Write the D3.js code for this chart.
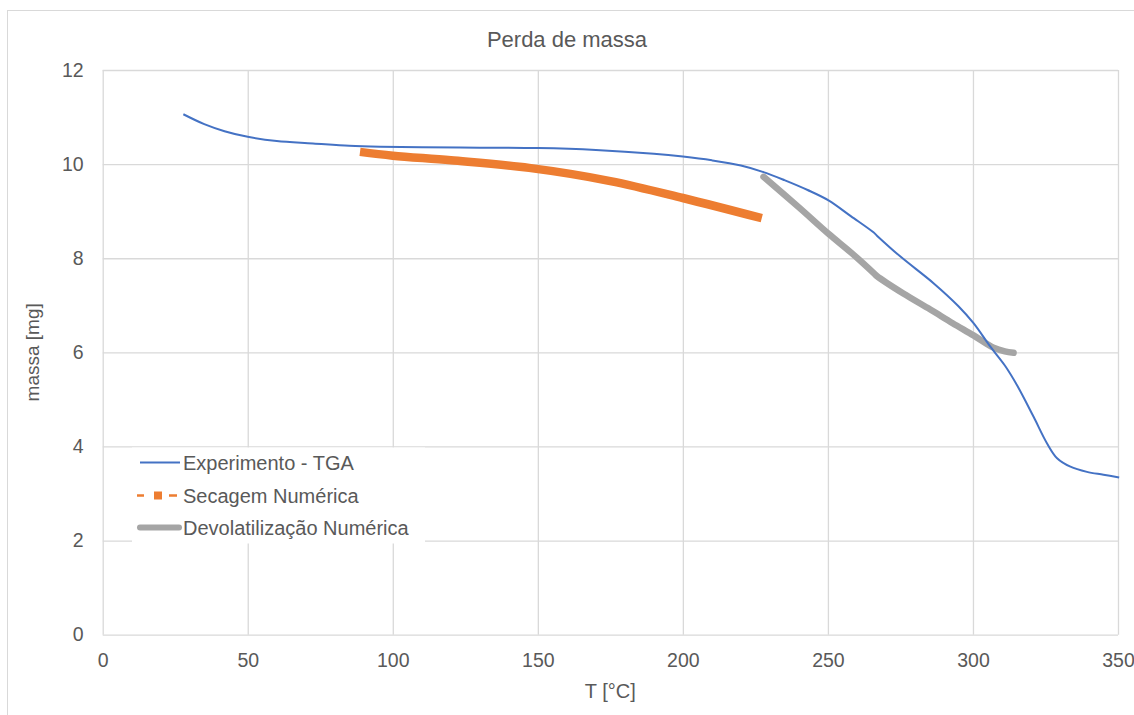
<!DOCTYPE html>
<html>
<head>
<meta charset="utf-8">
<script src="https://cdn.jsdelivr.net/npm/d3@7"></script>
<style>
  html, body { margin: 0; padding: 0; background: #fff; }
  svg { display: block; font-family: "Liberation Sans", Arial, sans-serif; }
</style>
</head>
<body>
<svg id="chart" width="1134" height="715"></svg>
<script>
// Experimental TGA mass-loss curve
const tgaT = [27.8, 35, 42, 50, 60, 72.5, 85, 95.6, 110, 130, 150, 170, 190, 200, 210, 220, 227.8, 235, 243, 250.2, 258, 265.7, 266.9, 274.9, 286.4, 295, 300.2, 306, 311, 315.2, 320.9, 325.5, 329, 333.6, 339.3, 345, 350.4];
const tgaMass = [11.06, 10.85, 10.70, 10.58, 10.49, 10.44, 10.39, 10.37, 10.36, 10.35, 10.34, 10.30, 10.22, 10.16, 10.08, 9.97, 9.83, 9.66, 9.45, 9.23, 8.89, 8.55, 8.48, 8.04, 7.47, 6.98, 6.62, 6.12, 5.72, 5.30, 4.63, 4.07, 3.75, 3.57, 3.46, 3.40, 3.34];

// Numerical drying model
const secT = [88.7, 100, 120, 147, 175, 200, 227.2];
const secMass = [10.26, 10.18, 10.08, 9.92, 9.64, 9.28, 8.85];

// Numerical devolatilisation model
const devT = [227.8, 240, 250.2, 258, 265.7, 266.9, 276, 285.3, 293, 300.2, 307.1, 311, 314];
const devMass = [9.73, 9.08, 8.52, 8.12, 7.69, 7.62, 7.25, 6.91, 6.62, 6.36, 6.10, 6.02, 5.99];

// Axis ticks and labels
const xTicks = [0, 50, 100, 150, 200, 250, 300, 350];
const yTicks = [0, 2, 4, 6, 8, 10, 12];
const chartTitle = "Perda de massa";
const xTitle = "T [°C]";
const yTitle = "massa [mg]";
const seriesNames = ["Experimento - TGA", "Secagem Numérica", "Devolatilização Numérica"];

const svg = d3.select("#chart");
const plotLeft = 102.7, plotRight = 1118, plotTop = 70, plotBottom = 634.7;

const x = d3.scaleLinear().domain([0, 350]).range([plotLeft, plotRight]);
const y = d3.scaleLinear().domain([0, 12]).range([plotBottom, plotTop]);

const textColor = "#595959";
const gridColor = "#d9d9d9";

// Outer chart frame
svg.append("rect")
  .attr("x", 7.5).attr("y", 10.5)
  .attr("width", 1140).attr("height", 720)
  .attr("fill", "none").attr("stroke", gridColor).attr("stroke-width", 1);

// Title
svg.append("text")
  .attr("x", 567).attr("y", 47)
  .attr("text-anchor", "middle")
  .attr("font-size", 22).attr("fill", textColor)
  .text(chartTitle);

// Grid + tick labels via axes
const xAxis = d3.axisBottom(x).tickValues(xTicks).tickSize(-(plotBottom - plotTop)).tickPadding(18).tickFormat(d3.format("d"));
const yAxis = d3.axisLeft(y).tickValues(yTicks).tickSize(-(plotRight - plotLeft)).tickPadding(19).tickFormat(d3.format("d"));

const gx = svg.append("g").attr("transform", `translate(0,${plotBottom})`).call(xAxis);
const gy = svg.append("g").attr("transform", `translate(${plotLeft},0)`).call(yAxis);
[gx, gy].forEach(g => {
  g.select(".domain").remove();
  g.selectAll(".tick line").attr("stroke", gridColor).attr("stroke-width", 1.3);
  g.selectAll(".tick text").attr("fill", textColor).attr("font-size", 19.5)
    .attr("font-family", "'Liberation Sans', Arial, sans-serif");
});
gx.selectAll(".tick text").attr("dy", "0.71em");

// Axis titles
svg.append("text")
  .attr("x", (plotLeft + plotRight) / 2).attr("y", 698)
  .attr("text-anchor", "middle")
  .attr("font-size", 20).attr("fill", textColor)
  .text(xTitle);

svg.append("text")
  .attr("transform", `translate(39,${(plotTop + plotBottom) / 2}) rotate(-90)`)
  .attr("text-anchor", "middle")
  .attr("font-size", 19).attr("fill", textColor)
  .text(yTitle);

// Series
const line = d3.line().x(d => x(d[0])).y(d => y(d[1])).curve(d3.curveCatmullRom.alpha(0.5));

svg.append("path")
  .datum(secT.map((t, i) => [t, secMass[i]]))
  .attr("d", line)
  .attr("fill", "none").attr("stroke", "#ed7d31")
  .attr("stroke-width", 8.5).attr("stroke-linecap", "butt");

svg.append("path")
  .datum(devT.map((t, i) => [t, devMass[i]]))
  .attr("d", line)
  .attr("fill", "none").attr("stroke", "#a5a5a5")
  .attr("stroke-width", 6.5).attr("stroke-linecap", "round").attr("stroke-linejoin", "round");

svg.append("path")
  .datum(tgaT.map((t, i) => [t, tgaMass[i]]))
  .attr("d", line)
  .attr("fill", "none").attr("stroke", "#4472c4")
  .attr("stroke-width", 2);

// Legend
const lg = svg.append("g");
lg.append("rect")
  .attr("x", 132).attr("y", 447.5).attr("width", 293).attr("height", 96)
  .attr("fill", "#fff");

const rows = [462.5, 495.5, 527.5];
// TGA sample
lg.append("line").attr("x1", 140).attr("x2", 180).attr("y1", rows[0]).attr("y2", rows[0])
  .attr("stroke", "#4472c4").attr("stroke-width", 2);
// Drying sample: dashed line with square marker
lg.append("line").attr("x1", 137).attr("x2", 144).attr("y1", rows[1]).attr("y2", rows[1])
  .attr("stroke", "#ed7d31").attr("stroke-width", 2.5);
lg.append("rect").attr("x", 154).attr("y", rows[1] - 4).attr("width", 8).attr("height", 8)
  .attr("fill", "#ed7d31");
lg.append("line").attr("x1", 169).attr("x2", 177).attr("y1", rows[1]).attr("y2", rows[1])
  .attr("stroke", "#ed7d31").attr("stroke-width", 2.5);
// Devolatilisation sample
lg.append("line").attr("x1", 140).attr("x2", 179).attr("y1", rows[2]).attr("y2", rows[2])
  .attr("stroke", "#a5a5a5").attr("stroke-width", 6).attr("stroke-linecap", "round");

lg.selectAll("text.lab").data(seriesNames).enter().append("text")
  .attr("class", "lab")
  .attr("x", 183).attr("y", (d, i) => rows[i])
  .attr("dy", "0.35em")
  .attr("font-size", 20).attr("fill", textColor)
  .text(d => d);
</script>
</body>
</html>
